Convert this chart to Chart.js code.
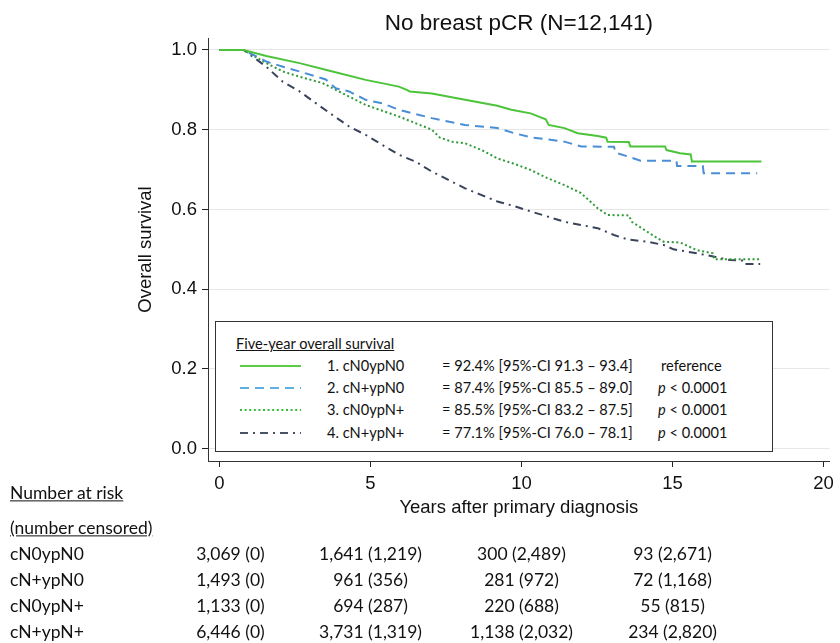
<!DOCTYPE html>
<html><head><meta charset="utf-8">
<script src="https://cdn.jsdelivr.net/npm/chart.js@4.4.1/dist/chart.umd.min.js"></script>
<style>
html,body{margin:0;padding:0;background:#fff;}
#wrap{position:relative;width:840px;height:643px;overflow:hidden;}
canvas{position:absolute;left:0;top:0;}
.t{position:absolute;white-space:nowrap;font-family:Lato,'Liberation Sans',sans-serif;color:#111;transform:translateY(-50%);line-height:1.1;}
.c{transform:translate(-50%,-50%);}
#legend{position:absolute;left:215px;top:321px;width:558px;height:131px;border:1.5px solid #333;background:#fff;box-sizing:border-box;}
</style></head><body>
<div id="wrap"><canvas id="c" width="840" height="643"></canvas><div id="legend"></div><div id="risk"></div></div>
<script>
const chartTitle = 'No breast pCR (N=12,141)';
const xTitle = 'Years after primary diagnosis';
const yTitle = 'Overall survival';
const xTicks = [0, 5, 10, 15, 20];
const yTicks = [0, 0.2, 0.4, 0.6, 0.8, 1.0];
const groups = ['cN0ypN0', 'cN+ypN0', 'cN0ypN+', 'cN+ypN+'];

const t1 = [0,0.8,1.55,2.65,3.74,4.84,5.94,6.2,6.3,7.03,8.13,9.2,9.66,10.3,10.8,10.9,11.42,11.86,12.52,12.8,12.85,13.55,13.6,14.75,14.8,15.25,15.6,15.64,17.94];
const s1 = [1,1,0.985,0.967,0.946,0.925,0.908,0.900,0.896,0.891,0.875,0.860,0.850,0.841,0.826,0.812,0.804,0.791,0.784,0.780,0.770,0.769,0.758,0.758,0.749,0.741,0.738,0.720,0.720];

const t2 = [0,0.8,1.55,2.1,2.65,3.52,3.85,4.29,4.84,5.39,5.94,7.03,8.13,9.2,9.77,10.3,11.42,11.97,13.06,13.12,13.6,13.94,15.13,15.15,16.0,16.03,17.8];
const s2 = [1,1,0.971,0.958,0.946,0.926,0.904,0.896,0.875,0.866,0.850,0.829,0.812,0.804,0.791,0.781,0.770,0.758,0.757,0.742,0.731,0.722,0.722,0.709,0.709,0.691,0.691];

const t3 = [0,0.8,1.55,2.1,2.65,3.41,3.85,4.84,5.94,7.03,7.3,7.69,8.13,8.68,9.2,9.77,10.3,10.87,11.42,11.97,12.52,12.85,13.55,13.65,14.16,14.5,14.7,15.25,15.8,16.33,16.38,17.94];
const s3 = [1,1,0.967,0.946,0.933,0.917,0.900,0.862,0.833,0.800,0.780,0.770,0.766,0.749,0.728,0.714,0.699,0.678,0.661,0.641,0.603,0.586,0.585,0.569,0.544,0.528,0.519,0.517,0.498,0.490,0.475,0.475];

const t4 = [0,0.8,1.55,2.1,2.65,3.2,3.74,4.29,4.84,5.39,5.94,6.49,7.03,7.58,8.13,8.68,9.2,9.77,10.3,10.87,11.42,11.97,12.52,13.06,13.5,14.16,14.7,15.03,15.8,16.35,16.9,17.3,17.34,17.9];
const s4 = [1,1,0.958,0.920,0.896,0.866,0.837,0.808,0.787,0.762,0.737,0.720,0.695,0.674,0.653,0.636,0.620,0.608,0.595,0.582,0.569,0.561,0.553,0.536,0.525,0.519,0.511,0.500,0.490,0.482,0.473,0.472,0.463,0.463];

const legendTitle = 'Five-year overall survival';
const legendLabels = ['1. cN0ypN0', '2. cN+ypN0', '3. cN0ypN+', '4. cN+ypN+'];
const fiveYear = ['= 92.4% [95%-CI 91.3 \u2013 93.4]', '= 87.4% [95%-CI 85.5 \u2013 89.0]', '= 85.5% [95%-CI 83.2 \u2013 87.5]', '= 77.1% [95%-CI 76.0 \u2013 78.1]'];
const pValues = ['reference', '< 0.0001', '< 0.0001', '< 0.0001'];

const riskTimes = [0, 5, 10, 15];
const risk1 = ['3,069 (0)', '1,641 (1,219)', '300 (2,489)', '93 (2,671)'];
const risk2 = ['1,493 (0)', '961 (356)', '281 (972)', '72 (1,168)'];
const risk3 = ['1,133 (0)', '694 (287)', '220 (688)', '55 (815)'];
const risk4 = ['6,446 (0)', '3,731 (1,319)', '1,138 (2,032)', '234 (2,820)'];

const times = [t1, t2, t3, t4];
const survs = [s1, s2, s3, s4];
const risks = [risk1, risk2, risk3, risk4];
const colors = ['#4cc43a', '#4a8fd6', '#2f9a35', '#39435c'];
const legendColors = ['#5ccc46', '#5fb0e2', '#38b840', '#4a5266'];
const dashes = [[], [9, 6], [2, 2.6], [8, 5, 2, 5]];

const axisFont = {family: "'Liberation Sans', Arial, sans-serif", size: 18.5};

const datasets = groups.map((g, i) => ({
  label: g,
  data: times[i].map((t, j) => ({x: t, y: survs[i][j]})),
  borderColor: colors[i],
  borderWidth: 2,
  borderDash: dashes[i],
  pointRadius: 0,
  fill: false,
  tension: 0
}));

const chart = new Chart(document.getElementById('c'), {
  type: 'line',
  data: {datasets},
  options: {
    responsive: false,
    animation: false,
    layout: {padding: {left: 0, right: 7, top: 0, bottom: 0}},
    plugins: {
      legend: {display: false},
      tooltip: {enabled: false},
      title: {display: true, text: chartTitle, fullSize: false, color: '#111',
        font: {family: "'Liberation Sans', Arial, sans-serif", size: 22.5, weight: 'normal'},
        padding: {top: 10.2, bottom: 0.8}}
    },
    scales: {
      x: {
        type: 'linear', min: -0.38, max: 20.2,
        afterFit: s => { s.height = 182; },
        afterBuildTicks: s => { s.ticks = xTicks.map(v => ({value: v})); },
        grid: {drawOnChartArea: false, drawTicks: true, tickLength: 6, tickColor: '#222'},
        border: {display: true, color: '#333', width: 1},
        ticks: {color: '#111', font: axisFont, padding: 6, maxRotation: 0, autoSkip: false},
        title: {display: true, text: xTitle, color: '#111', font: axisFont, padding: {top: 0, bottom: 124}}
      },
      y: {
        type: 'linear', min: -0.031, max: 1.030,
        afterFit: s => { s.width = 208; },
        afterBuildTicks: s => { s.ticks = yTicks.map(v => ({value: v})); },
        grid: {color: '#e6e6e6', lineWidth: 1, drawTicks: true, tickLength: 6, tickColor: '#222'},
        border: {display: true, color: '#333', width: 1},
        ticks: {color: '#111', font: axisFont, padding: 5, callback: v => Number(v).toFixed(1)},
        title: {display: true, text: yTitle, color: '#111', font: axisFont, padding: {top: 135, bottom: 0}}
      }
    }
  }
});

function addText(parent, txt, x, y, size, opts = {}) {
  const el = document.createElement('div');
  el.className = 't' + (opts.center ? ' c' : '');
  el.style.left = x + 'px';
  el.style.top = y + 'px';
  el.style.fontSize = size + 'px';
  if (opts.underline) el.style.textDecoration = 'underline';
  if (opts.html) el.innerHTML = txt; else el.textContent = txt;
  parent.appendChild(el);
  return el;
}

// Legend box (page coordinates converted to box-relative)
const lg = document.getElementById('legend');
const L0x = 215, L0y = 321;
const legFs = 14.6;
addText(lg, legendTitle, 235 - L0x, 343 - L0y, legFs, {underline: true});
const rowY = [365, 387, 409, 432];
const svgNS = 'http://www.w3.org/2000/svg';
groups.forEach((g, i) => {
  const y = rowY[i] - L0y;
  const svg = document.createElementNS(svgNS, 'svg');
  svg.setAttribute('width', '64'); svg.setAttribute('height', '6');
  svg.style.position = 'absolute';
  svg.style.left = (238 - L0x) + 'px';
  svg.style.top = (y - 3) + 'px';
  const ln = document.createElementNS(svgNS, 'line');
  ln.setAttribute('x1', '1'); ln.setAttribute('x2', '62');
  ln.setAttribute('y1', '3'); ln.setAttribute('y2', '3');
  ln.setAttribute('stroke', legendColors[i]);
  ln.setAttribute('stroke-width', '2');
  if (dashes[i].length) ln.setAttribute('stroke-dasharray', dashes[i].join(' '));
  svg.appendChild(ln);
  lg.appendChild(svg);
  addText(lg, legendLabels[i], 326 - L0x, y, legFs);
  addText(lg, fiveYear[i], 441 - L0x, y, legFs);
  if (i === 0) addText(lg, pValues[i], 660 - L0x, y, legFs);
  else addText(lg, '<i>p</i> ' + pValues[i], 657 - L0x, y, legFs, {html: true});
});

// Number at risk table
const rk = document.getElementById('risk');
const tabFs = 17.5;
addText(rk, 'Number at risk', 10, 493, tabFs, {underline: true});
addText(rk, '(number censored)', 10, 528, tabFs, {underline: true});
const tabY = [554, 580, 606, 632];
const xs = chart.scales.x;
groups.forEach((g, i) => {
  addText(rk, g, 10, tabY[i], tabFs);
  riskTimes.forEach((t, j) => {
    const px = xs.getPixelForValue(t) + (j === 0 ? 11 : 0);
    addText(rk, risks[i][j], px, tabY[i], tabFs, {center: true});
  });
});
</script>
</body></html>
